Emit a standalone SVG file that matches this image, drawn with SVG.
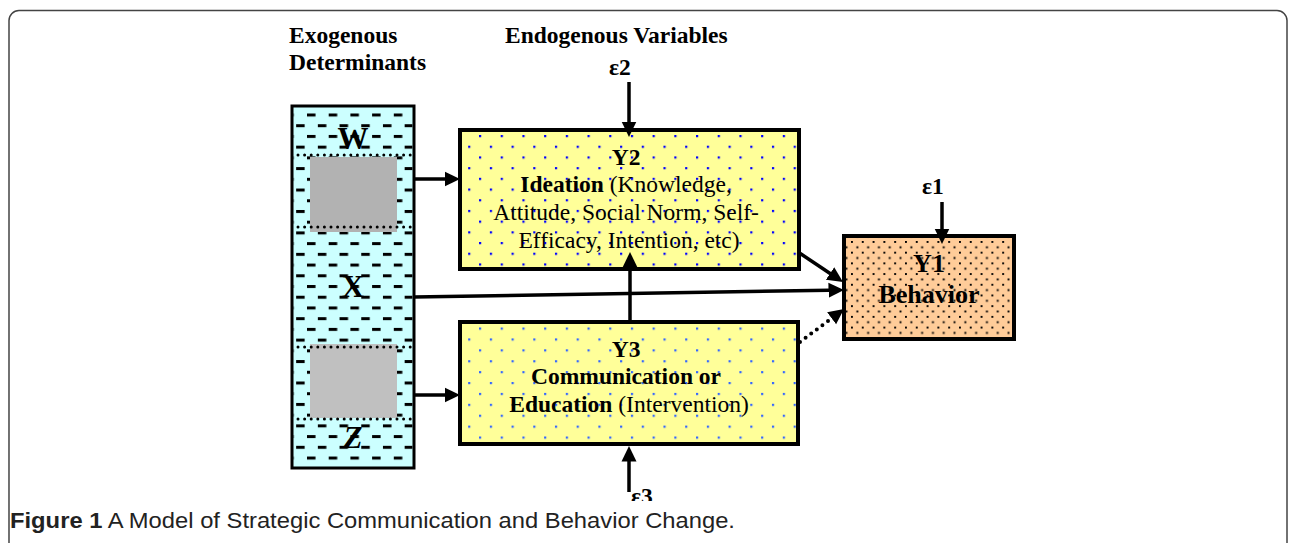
<svg xmlns="http://www.w3.org/2000/svg" width="1290" height="543" viewBox="0 0 1290 543">
<style>
.t{font-family:"Liberation Serif","Times New Roman",serif;fill:#000}
.b{font-weight:bold}
.box{stroke:#000;stroke-width:4}
.ln{stroke:#000;stroke-width:3.5;fill:none}
.dotl{stroke:#000;stroke-width:3;stroke-dasharray:0 6.6;stroke-linecap:round;fill:none}
</style>
<defs>
<pattern id="exo" patternUnits="userSpaceOnUse" x="307" y="113.5" width="21.7" height="21.44">
<rect x="0" y="0" width="8.5" height="3" fill="#000"/>
<rect x="10.85" y="10.72" width="8.5" height="3" fill="#000"/>
</pattern>
<pattern id="dy2" patternUnits="userSpaceOnUse" x="479" y="135" width="21.7" height="21.4">
<rect x="0" y="0" width="2.2" height="2.2" fill="#0000FF"/>
<rect x="10.85" y="10.7" width="2.2" height="2.2" fill="#0000FF"/>
</pattern>
<pattern id="dy3" patternUnits="userSpaceOnUse" x="479" y="327.5" width="21.7" height="21.8">
<rect x="0" y="0" width="2.2" height="2.2" fill="#3366FF"/>
<rect x="10.85" y="10.9" width="2.2" height="2.2" fill="#3366FF"/>
</pattern>
<pattern id="dy1" patternUnits="userSpaceOnUse" x="851" y="241" width="10.8" height="10.7">
<rect x="0" y="0" width="1.9" height="1.9" fill="#000"/>
<rect x="5.4" y="5.35" width="1.9" height="1.9" fill="#000"/>
</pattern>
<marker id="ah" markerUnits="userSpaceOnUse" markerWidth="16" markerHeight="16" viewBox="0 0 16 16" refX="0.5" refY="8" orient="auto">
<path d="M0,0.5 L15.5,8 L0,15.5 z" fill="#000"/>
</marker>
<clipPath id="cut"><rect x="0" y="0" width="1290" height="501"/></clipPath>
</defs>

<rect id="frame" x="9" y="10.5" width="1278" height="560" rx="10" ry="10" fill="none" stroke="#444" stroke-width="1.5"/>

<g id="headers">
<text class="t b" x="289" y="43" font-size="23.5">Exogenous</text>
<text class="t b" x="289" y="70" font-size="23.5">Determinants</text>
<text class="t b" x="505" y="43" font-size="23.5">Endogenous Variables</text>
</g>

<g id="exogenous">
<rect x="292" y="106" width="122" height="362" fill="#CCFFFF"/>
<rect x="293.5" y="107.5" width="119" height="359" fill="url(#exo)"/>
<rect x="310" y="157" width="87" height="75" fill="#B2B2B2"/>
<rect x="310" y="344" width="87" height="74" fill="#C0C0C0"/>
<line class="dotl" x1="298" y1="155" x2="412" y2="155"/>
<line class="dotl" x1="298" y1="227" x2="412" y2="227"/>
<line class="dotl" x1="298" y1="347" x2="412" y2="347"/>
<line class="dotl" x1="298" y1="419" x2="412" y2="419"/>
<text class="t b" x="353" y="149" font-size="31" text-anchor="middle">W</text>
<text class="t b" x="353" y="297" font-size="31" text-anchor="middle">X</text>
<text class="t b" x="353" y="448" font-size="31" text-anchor="middle" font-style="italic">Z</text>
<rect x="292" y="106" width="122" height="362" fill="none" stroke="#000" stroke-width="3"/>
</g>

<g id="y2">
<rect class="box" x="460" y="130" width="339" height="139" fill="#FFFF99"/>
<rect x="462" y="132" width="335" height="135" fill="url(#dy2)"/>
<text class="t" x="629" font-size="23.5" text-anchor="middle">
<tspan class="b" x="629" y="165">Y2</tspan>
<tspan x="629" y="192"><tspan class="b">Ideation</tspan> (Knowledge,</tspan>
<tspan x="629" y="220">Attitude, Social Norm, Self-</tspan>
<tspan x="629" y="248">Efficacy, Intention, etc)</tspan>
</text>
</g>

<g id="y3">
<rect class="box" x="460" y="322" width="338" height="122" fill="#FFFF99"/>
<rect x="462" y="324" width="334" height="118" fill="url(#dy3)"/>
<text class="t" x="629" font-size="23.5" text-anchor="middle">
<tspan class="b" x="629" y="357">Y3</tspan>
<tspan class="b" x="629" y="384">Communication or</tspan>
<tspan x="629" y="412"><tspan class="b">Education</tspan> (Intervention)</tspan>
</text>
</g>

<g id="y1">
<rect class="box" x="844" y="236" width="170" height="103" fill="#FFCC99"/>
<rect x="846" y="238" width="166" height="99" fill="url(#dy1)"/>
<text class="t b" x="929" y="272" font-size="26" text-anchor="middle">Y1</text>
<text class="t b" x="929" y="303" font-size="26" text-anchor="middle">Behavior</text>
</g>

<g id="errors">
<text class="t b" x="609" y="75" font-size="23.5">ε2</text>
<text class="t b" x="922" y="194" font-size="23.5">ε1</text>
<text class="t b" x="631" y="504" font-size="23.5" clip-path="url(#cut)">ε3</text>
</g>

<g id="connectors">
<line class="ln" x1="414" y1="179" x2="445" y2="179" marker-end="url(#ah)"/>
<line class="ln" x1="414" y1="395" x2="445" y2="395" marker-end="url(#ah)"/>
<line class="ln" x1="629" y1="82" x2="629" y2="122" marker-end="url(#ah)"/>
<line class="ln" x1="630" y1="322" x2="630" y2="267" marker-end="url(#ah)"/>
<line class="ln" x1="629" y1="492" x2="629" y2="461" marker-end="url(#ah)"/>
<line class="ln" x1="942" y1="202" x2="942" y2="229" marker-end="url(#ah)"/>
<line class="ln" x1="798" y1="252" x2="830.5" y2="273.7" marker-end="url(#ah)"/>
<line class="ln" x1="414" y1="297" x2="829" y2="290.2" marker-end="url(#ah)"/>
<line x1="800" y1="342" x2="832" y2="318" stroke="#000" stroke-width="4" stroke-dasharray="0 7" stroke-linecap="round" marker-end="url(#ah)"/>
</g>

<g id="caption">
<text x="10" y="528" font-family="'Liberation Sans',Arial,sans-serif" font-size="21.5" fill="#222" textLength="725" lengthAdjust="spacingAndGlyphs"><tspan font-weight="bold">Figure 1</tspan> A Model of Strategic Communication and Behavior Change.</text>
</g>
</svg>
